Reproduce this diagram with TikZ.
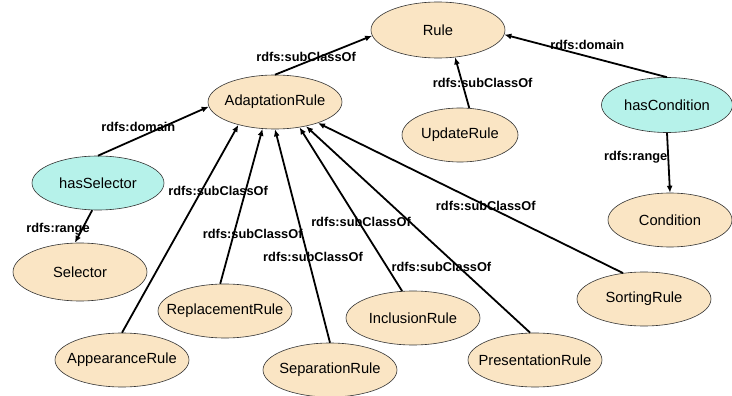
\documentclass[tikz,border=0pt]{standalone}
\usepackage{fontspec}
\setmainfont{Liberation Sans}
\usetikzlibrary{positioning,shapes.geometric,arrows.meta}
\definecolor{classfill}{RGB}{250,229,196}
\definecolor{propfill}{RGB}{182,242,234}
\newcommand{\nm}[1]{\makebox[0pt]{#1}}

\begin{document}
\begin{tikzpicture}[
    x=1pt, y=-1pt,
    cls/.style={%
      draw=black!80,
      ellipse,
      fill=classfill,
      line width=0.6pt,
      minimum width=134pt,
      minimum height=54pt,
      inner sep=0pt,
      font=\fontsize{14.7}{17}\selectfont,
    },
    prop/.style={cls, fill=propfill},
    lbl/.style={font=\fontsize{12.8}{15}\selectfont\bfseries, inner sep=0pt},
    arr/.style={line width=1.8pt, -{Latex[length=7pt,width=6pt]}},
  ]
    \useasboundingbox (0,0) rectangle (732,396);

    \node [cls, minimum height=56pt] (Rule) at (438,30) {\nm{Rule}};
    \path (Rule) ++(-163,72) node [cls] (Adapt) {\nm{AdaptationRule}};
    \path (Rule) ++(22,105) node [cls, minimum width=116pt] (Update) {\nm{UpdateRule}};
    \path (Rule) ++(229,75) node [prop, minimum width=131pt, minimum height=55pt] (HasCond) {\nm{hasCondition}};
    \path (HasCond) ++(3,115) node [cls, minimum width=124pt] (Cond) {\nm{Condition}};
    \path (Adapt) ++(-177,81) node [prop, minimum width=132pt] (HasSel) {\nm{hasSelector}};
    \path (HasSel) ++(-18,89) node [cls, minimum height=58pt] (Sel) {\nm{Selector}};
    \path (Adapt) ++(-50,209) node [cls] (Repl) {\nm{ReplacementRule}};
    \path (Adapt) ++(-153,258) node [cls] (Appear) {\nm{AppearanceRule}};
    \path (Adapt) ++(55,268) node [cls] (Sep) {\nm{SeparationRule}};
    \path (Adapt) ++(138,216) node [cls] (Incl) {\nm{InclusionRule}};
    \path (Adapt) ++(260,258) node [cls] (Pres) {\nm{PresentationRule}};
    \path (Adapt) ++(369,197) node [cls] (Sort) {\nm{SortingRule}};

    \draw [arr] (Adapt.north) -- node [lbl, pos=.32, yshift=5pt] (l1) {rdfs:subClassOf} (Rule.185);
    \draw [arr] (Update.71) -- node [lbl, pos=.5, xshift=20.5pt] (l2) {rdfs:subClassOf} (Rule.302);
    \draw [arr] (HasCond.north) -- node [lbl, pos=.49, yshift=11pt] (l3) {rdfs:domain} (Rule.356);
    \draw [arr] (HasCond.south) -- node [lbl, pos=.41, anchor=east] (l4) {rdfs:range} (Cond.north);
    \draw [arr] (HasSel.north) -- node [lbl, pos=.364, yshift=11pt] (l5) {rdfs:domain} (Adapt.184);
    \draw [arr] (HasSel.258) -- node [lbl, pos=.59, xshift=-24pt] (l6) {rdfs:range} (Sel.100);
    \draw [arr] (Appear.north) -- node [lbl, pos=.68, xshift=17pt] (l7) {rdfs:subClassOf} (Adapt.212);
    \draw [arr] (Repl.100) -- node [lbl, pos=.32, xshift=19pt] (l8) {rdfs:subClassOf} (Adapt.245);
    \draw [arr] (Sep.north) -- node [lbl, pos=.4, xshift=5pt] (l9) {rdfs:subClassOf} (Adapt.270);
    \draw [arr] (Incl.112) -- node [lbl, pos=.42, xshift=2pt] (l10) {rdfs:subClassOf} (Adapt.314);
    \draw [arr] (Pres.100) -- node [lbl, pos=.32, xshift=-17pt] (l11) {rdfs:subClassOf} (Adapt.322);
    \draw [arr] (Sort.129) -- node [lbl, pos=.45] (l12) {rdfs:subClassOf} (Adapt.334);
\end{tikzpicture}
\end{document}
